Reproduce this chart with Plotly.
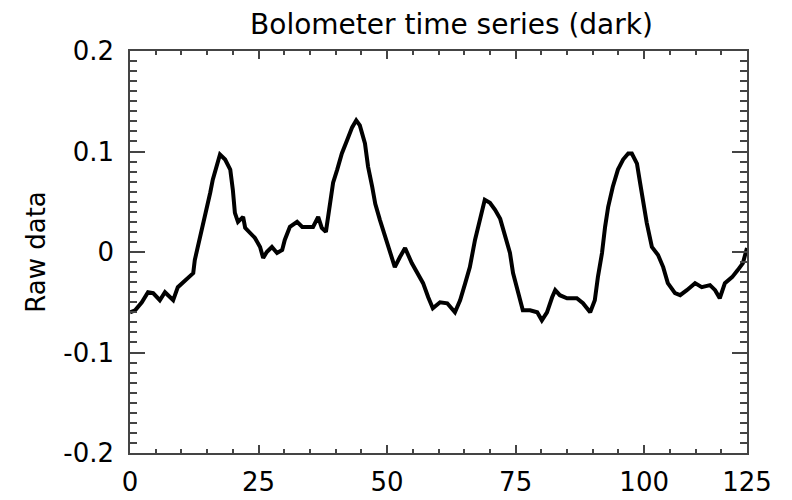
import plotly.graph_objects as go

# sample index (time) and raw bolometer signal
t = [0, 1.0, 2.3, 3.5, 4.5, 5.8, 6.8, 8.4, 9.3, 10.7, 12.3, 12.6, 13.2, 14.2, 15.0,
     15.6, 16.1, 16.9, 17.5, 18.5, 19.5, 20.0, 20.4, 21.0, 22.0, 22.4, 23.3, 24.3,
     25.3, 25.9, 26.6, 27.6, 28.6, 29.6, 30.1, 31.1, 32.5, 33.5, 34.6, 35.6, 36.6,
     37.3, 38.1, 38.9, 39.5, 40.3, 41.2, 42.2, 43.2, 44.0, 44.7, 45.7, 46.3, 47.1,
     47.7, 48.6, 49.6, 50.6, 51.5, 52.5, 53.5, 54.8, 56.0, 57.0, 58.0, 58.9, 60.3,
     61.7, 63.2, 64.2, 65.2, 66.1, 67.1, 68.1, 69.0, 70.0, 71.0, 72.0, 73.1, 73.9,
     74.5, 75.5, 76.4, 77.8, 79.2, 80.1, 81.1, 82.1, 82.7, 83.6, 85.0, 86.9, 88.1,
     89.5, 90.4, 91.0, 91.8, 92.4, 93.0, 93.9, 94.9, 95.9, 96.9, 97.6, 98.6, 99.2,
     99.8, 100.5, 101.5, 102.7, 103.7, 104.6, 106.0, 107.0, 108.3, 109.9, 111.2,
     112.8, 113.8, 114.7, 115.7, 117.1, 118.2, 119.2, 120]
raw = [-0.060, -0.058, -0.050, -0.040, -0.041, -0.048, -0.040, -0.048, -0.035, -0.028,
       -0.021, -0.008, 0.005, 0.025, 0.042, 0.059, 0.072, 0.087, 0.097, 0.092, 0.082,
       0.062, 0.039, 0.030, 0.035, 0.024, 0.019, 0.014, 0.005, -0.006, 0.000, 0.005,
       -0.001, 0.002, 0.012, 0.025, 0.030, 0.025, 0.025, 0.025, 0.035, 0.024, 0.020,
       0.049, 0.069, 0.082, 0.098, 0.111, 0.124, 0.131, 0.126, 0.108, 0.085, 0.065,
       0.048, 0.032, 0.015, -0.001, -0.015, -0.005, 0.004, -0.011, -0.021, -0.031,
       -0.045, -0.056, -0.050, -0.051, -0.060, -0.048, -0.031, -0.015, 0.012, 0.035,
       0.052, 0.049, 0.042, 0.033, 0.015, -0.001, -0.021, -0.041, -0.058, -0.058,
       -0.060, -0.068, -0.060, -0.045, -0.038, -0.043, -0.046, -0.046, -0.051, -0.060,
       -0.048, -0.025, -0.001, 0.025, 0.045, 0.065, 0.082, 0.092, 0.098, 0.098, 0.088,
       0.069, 0.049, 0.029, 0.005, -0.003, -0.015, -0.031, -0.041, -0.043, -0.038,
       -0.031, -0.035, -0.033, -0.038, -0.046, -0.031, -0.025, -0.018, -0.011, 0.004]

x_tickvals = [0, 25, 50, 75, 100, 120]
x_ticktext = ["0", "25", "50", "75", "100", "125"]
y_tickvals = [-0.2, -0.1, 0, 0.1, 0.2]
y_ticktext = ["-0.2", "-0.1", "0", "0.1", "0.2"]

FONT = "DejaVu Sans"
AXC = "#444444"

fig = go.Figure()
fig.add_trace(go.Scatter(x=t, y=raw, mode="lines", cliponaxis=False,
                         line=dict(color="black", width=4), showlegend=False))

fig.update_layout(
    width=792, height=500,
    margin=dict(l=130, r=45, t=51, b=47),
    paper_bgcolor="white", plot_bgcolor="white",
    font=dict(family=FONT, size=26, color="black"),
    title=dict(text="Bolometer time series (dark)", x=451.5 / 792, xanchor="center",
               xref="container", y=1 - 24 / 500, yref="container", yanchor="middle",
               font=dict(family=FONT, size=28, color="black")),
)
fig.update_xaxes(
    range=[0, 120], showgrid=False, zeroline=False, automargin=False,
    showline=True, linecolor=AXC, linewidth=1.5, mirror="ticks",
    ticks="inside", ticklen=8, tickwidth=1.5, tickcolor=AXC,
    tickvals=x_tickvals, ticktext=x_ticktext, ticklabelstandoff=5,
    tickfont=dict(family=FONT, size=26),
    minor=dict(ticks="inside", ticklen=4, tickwidth=1.5, tickcolor=AXC, dtick=5, showgrid=False),
)
fig.update_yaxes(
    range=[-0.2, 0.2], showgrid=False, zeroline=False, automargin=False,
    showline=True, linecolor=AXC, linewidth=1.5, mirror="ticks",
    ticks="inside", ticklen=15, tickwidth=1.5, tickcolor=AXC,
    tickvals=y_tickvals, ticktext=y_ticktext, ticklabelstandoff=9,
    tickfont=dict(family=FONT, size=26),
    minor=dict(ticks="inside", ticklen=7, tickwidth=1.5, tickcolor=AXC, dtick=0.01, showgrid=False),
    title=dict(text="Raw data", font=dict(family=FONT, size=26), standoff=10),
)

fig.write_html("out.html")
